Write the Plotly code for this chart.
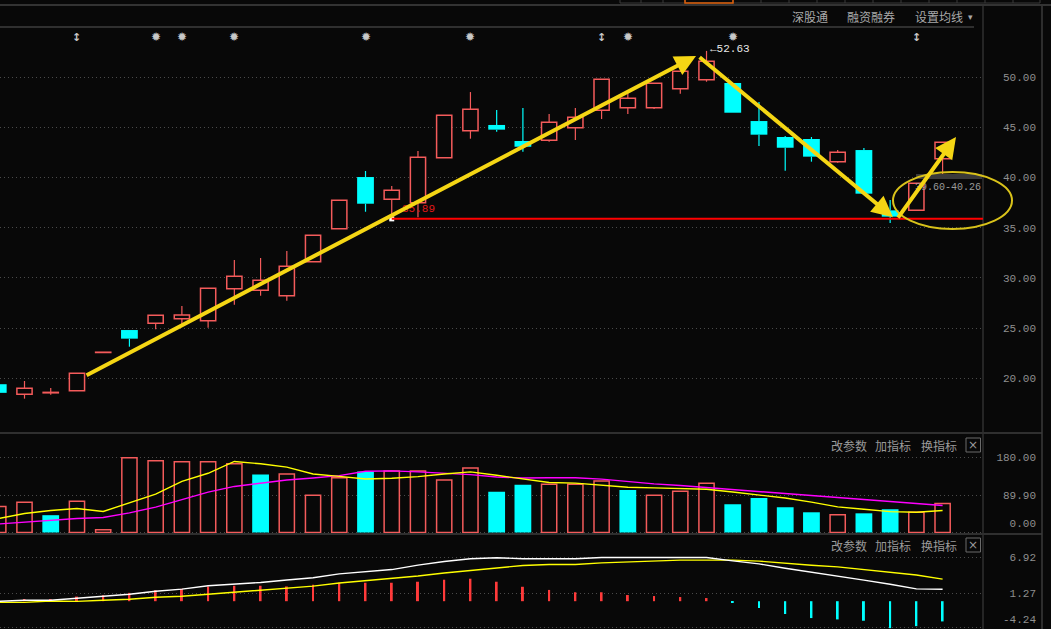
import plotly.graph_objects as go

# ---------------- data ----------------
days = list(range(37))
opens  = [19.41, 18.40, 18.55, 18.76, 22.57, 24.81, 25.48, 25.94, 25.74, 28.93,
          28.77, 28.23, 31.62, 34.91, 40.06, 37.84, 37.50, 41.99, 44.68, 45.25,
          43.65, 43.72, 44.98, 46.71, 46.97, 46.97, 48.86, 49.76, 49.43, 45.64,
          44.05, 43.85, 41.59, 42.75, 36.74, 36.74, 41.89]
highs  = [19.41, 19.73, 19.03, 20.50, 22.60, 24.81, 26.28, 27.20, 28.97, 31.79,
          31.99, 32.69, 34.25, 37.74, 40.66, 39.17, 42.65, 46.21, 48.53, 46.74,
          46.94, 46.34, 46.94, 49.80, 48.57, 49.40, 50.60, 52.63, 49.43, 47.54,
          44.15, 44.05, 42.75, 42.95, 37.77, 39.43, 43.52]
lows   = [18.55, 17.97, 18.37, 18.76, 22.57, 23.15, 24.88, 25.25, 25.04, 27.33,
          28.23, 27.73, 31.62, 34.91, 36.60, 35.89, 36.05, 41.99, 43.88, 44.58,
          42.58, 43.58, 43.75, 45.84, 46.34, 46.84, 48.37, 49.56, 46.47, 43.15,
          40.69, 41.59, 41.49, 38.40, 35.48, 36.74, 40.33]
closes = [18.55, 19.00, 18.60, 20.50, 22.60, 23.95, 26.28, 26.30, 28.97, 30.17,
          29.77, 31.16, 34.25, 37.74, 37.40, 38.74, 42.03, 46.21, 46.81, 44.78,
          43.08, 45.51, 46.01, 49.80, 47.91, 49.40, 50.60, 51.59, 46.47, 44.28,
          42.98, 42.09, 42.52, 38.40, 36.11, 39.43, 43.52]
prev_close_first = 18.40

volumes  = [62.7, 72.5, 41.6, 74.9, 6.7, 179.7, 172.4, 170.0, 170.0, 165.1,
            139.1, 140.7, 89.5, 131.8, 146.4, 148.0, 148.0, 126.1, 155.3, 97.7,
            114.8, 116.1, 116.1, 123.5, 102.3, 89.3, 99.0, 118.6, 68.1, 82.8,
            60.8, 48.6, 42.9, 46.1, 55.9, 48.6, 69.7]
vol_ma5  = [33.5, 45.7, 53.0, 57.8, 50.5, 71.7, 92.0, 122.8, 142.3, 170.8,
            165.1, 157.0, 140.7, 135.0, 128.5, 130.2, 134.2, 140.7, 145.6, 137.5,
            128.5, 120.2, 118.6, 113.7, 108.8, 107.2, 106.4, 103.9, 97.4, 90.9,
            82.8, 73.0, 61.6, 55.9, 50.2, 48.6, 52.7]
vol_ma10 = [20.5, 25.3, 28.6, 33.5, 35.9, 47.3, 61.1, 79.8, 96.9, 110.7,
            118.8, 126.1, 131.0, 136.7, 147.3, 148.0, 145.6, 142.3, 139.1, 133.4,
            131.0, 131.6, 131.6, 128.3, 121.8, 116.9, 112.8, 108.0, 103.1, 99.8,
            95.0, 90.1, 84.4, 79.5, 74.6, 69.7, 64.8]

dif  = [-0.02, 0.14, 0.14, 0.46, 0.78, 1.11, 1.59, 1.91, 2.45, 2.71,
        2.98, 3.36, 3.73, 4.33, 4.70, 5.02, 5.72, 6.31, 6.74, 6.90,
        6.74, 6.73, 6.73, 6.93, 6.93, 6.93, 6.93, 6.93, 6.41, 5.92,
        5.23, 4.64, 4.05, 3.35, 2.70, 1.95, 1.90]
dea  = [-0.18, -0.18, 0.03, -0.02, 0.14, 0.30, 0.62, 0.78, 1.11, 1.43,
        1.75, 2.07, 2.39, 2.88, 3.25, 3.63, 4.00, 4.48, 4.86, 5.18,
        5.67, 5.82, 5.82, 6.09, 6.25, 6.41, 6.52, 6.52, 6.52, 6.36,
        5.98, 5.71, 5.45, 5.02, 4.59, 4.16, 3.51]
macd = [0.32, 0.35, 0.35, 0.73, 0.94, 1.32, 1.75, 1.96, 2.34, 2.45,
        2.45, 2.34, 2.61, 2.93, 2.93, 2.93, 3.09, 3.41, 3.57, 3.09,
        2.29, 1.79, 1.42, 1.42, 0.98, 0.82, 0.66, 0.50, -0.25, -1.06,
        -2.03, -2.68, -2.89, -3.10, -4.28, -3.96, -3.21]

price_ticks = [20, 25, 30, 35, 40, 45, 50]
vol_ticks = [180.0, 89.9, 0.0]
macd_ticks = [6.92, 1.27, -4.24]
star_days = [6, 7, 9, 14, 18, 24, 28]
flag_days = [3, 23, 35]
low_day = 15          # support-line start
peak_day = 27
range_label = "39.60-40.26"

for arr in (opens, highs, lows, closes, volumes, vol_ma5, vol_ma10, dif, dea, macd):
    assert len(arr) == len(days)

# ---------------- style ----------------
W, H = 1051, 629
PR = 15                       # right margin
PW = W - PR                   # plot width in px
BG = "#080808"
RED = "#f45b5b"
CYAN = "#00ffff"
GRID = "#4a4a4a"
LBL = "#8f8f8f"
YEL = "#f5d614"
MONO = "Liberation Mono"
CJK = "Noto Sans CJK SC"

def px(x):
    return x / PW

def py(y):
    return 1 - y / H

XR = [0.066, 37.54]

fig = go.Figure()

# ---------- candles ----------
up = [i for i in days if closes[i] >= opens[i]]
dn = [i for i in days if closes[i] < opens[i]]

def wicks(sel):
    xs, ys = [], []
    for i in sel:
        top, bot = max(opens[i], closes[i]), min(opens[i], closes[i])
        if highs[i] > top:
            xs += [i, i, None]; ys += [highs[i], top, None]
        if lows[i] < bot:
            xs += [i, i, None]; ys += [bot, lows[i], None]
    return xs, ys

for sel, col in ((up, RED), (dn, CYAN)):
    wx, wy = wicks(sel)
    fig.add_trace(go.Scatter(x=wx, y=wy, mode="lines", line=dict(color=col, width=1.2),
                             hoverinfo="skip", xaxis="x", yaxis="y"))

fig.add_trace(go.Bar(x=up, y=[closes[i] - opens[i] for i in up], base=[opens[i] for i in up],
                     width=0.58, marker=dict(color=BG, line=dict(color=RED, width=1.5)),
                     xaxis="x", yaxis="y"))
fig.add_trace(go.Bar(x=dn, y=[opens[i] - closes[i] for i in dn], base=[closes[i] for i in dn],
                     width=0.64, marker=dict(color=CYAN, line=dict(width=0)),
                     xaxis="x", yaxis="y"))

# lowest point marker
fig.add_trace(go.Scatter(x=[low_day], y=[lows[low_day]], mode="markers",
                         marker=dict(symbol="square", size=5, color="#ffffff"),
                         xaxis="x", yaxis="y"))

# ---------- volume ----------
prevs = [prev_close_first] + closes[:-1]
vup = [i for i in days if closes[i] >= prevs[i]]
vdn = [i for i in days if closes[i] < prevs[i]]
fig.add_trace(go.Bar(x=vup, y=[volumes[i] for i in vup], width=0.58,
                     marker=dict(color=BG, line=dict(color=RED, width=1.5)),
                     xaxis="x2", yaxis="y2"))
fig.add_trace(go.Bar(x=vdn, y=[volumes[i] for i in vdn], width=0.64,
                     marker=dict(color=CYAN, line=dict(width=0)),
                     xaxis="x2", yaxis="y2"))
fig.add_trace(go.Scatter(x=days, y=vol_ma10, mode="lines", line=dict(color="#ff00ff", width=1.4),
                         xaxis="x2", yaxis="y2"))
fig.add_trace(go.Scatter(x=days, y=vol_ma5, mode="lines", line=dict(color="#ffff00", width=1.4),
                         xaxis="x2", yaxis="y2"))

# ---------- MACD ----------
hup = [i for i in days if macd[i] >= 0]
hdn = [i for i in days if macd[i] < 0]
fig.add_trace(go.Bar(x=hup, y=[macd[i] for i in hup], width=0.075,
                     marker=dict(color="#ff3a3a", line=dict(width=0)), xaxis="x3", yaxis="y3"))
fig.add_trace(go.Bar(x=hdn, y=[macd[i] for i in hdn], width=0.075,
                     marker=dict(color=CYAN, line=dict(width=0)), xaxis="x3", yaxis="y3"))
fig.add_trace(go.Scatter(x=days, y=dea, mode="lines", line=dict(color="#ffff00", width=1.4),
                         xaxis="x3", yaxis="y3"))
fig.add_trace(go.Scatter(x=days, y=dif, mode="lines", line=dict(color="#ffffff", width=1.4),
                         xaxis="x3", yaxis="y3"))

# ---------- axes ----------
xdom = [0, px(983)]
xcommon = dict(range=XR, domain=xdom, visible=False, showgrid=False, zeroline=False)
tickfont = dict(family=MONO, size=11, color=LBL)
DOT = "1px,3px"

price_dom = [py(432), py(28)]
p_lo = 50 - (432 - 77.3) / 10.033
p_hi = 50 + (77.3 - 28) / 10.033
vol_dom = [py(534), py(433.5)]
v_lo = (532.5 - 534) / 0.4161
v_hi = (532.5 - 433.5) / 0.4161
macd_dom = [0, py(535)]
m_lo = -(629 - 601.2) / 6.3
m_hi = (601.2 - 535) / 6.3

fig.update_layout(
    xaxis=dict(anchor="y", **xcommon),
    xaxis2=dict(anchor="y2", matches="x", **xcommon),
    xaxis3=dict(anchor="y3", matches="x", **xcommon),
    yaxis=dict(domain=price_dom, range=[p_lo, p_hi], anchor="free", position=1, side="left",
               tickmode="array", tickvals=price_ticks, ticktext=[f"{v:.2f}" for v in price_ticks],
               showgrid=True, gridcolor=GRID, griddash=DOT, gridwidth=1, zeroline=False,
               showline=False, ticks="", tickfont=tickfont),
    yaxis2=dict(domain=vol_dom, range=[v_lo, v_hi], anchor="free", position=1, side="left",
                tickmode="array", tickvals=[180.0, 89.9, 22.8],
                ticktext=[f"{v:.2f}" for v in vol_ticks],
                showgrid=False, zeroline=False, showline=False, ticks="", tickfont=tickfont,
                minor=dict(tickmode="array", tickvals=vol_ticks, showgrid=True, gridcolor=GRID,
                           griddash=DOT, gridwidth=1, ticks="")),
    yaxis3=dict(domain=macd_dom, range=[m_lo, m_hi], anchor="free", position=1, side="left",
                tickmode="array", tickvals=[6.92, 1.27, -2.83],
                ticktext=[f"{v:.2f}" for v in macd_ticks],
                showgrid=False, zeroline=False, showline=False, ticks="", tickfont=tickfont,
                minor=dict(tickmode="array", tickvals=macd_ticks, showgrid=True, gridcolor=GRID,
                           griddash=DOT, gridwidth=1, ticks="")),
    barmode="overlay",
    showlegend=False,
    width=W, height=H,
    margin=dict(l=0, r=PR, t=0, b=0, pad=0),
    paper_bgcolor=BG, plot_bgcolor=BG,
    hovermode=False,
)

shapes = []
LINE = "#2f2f2f"
# frame lines
shapes.append(dict(type="line", xref="paper", yref="paper", x0=0, x1=px(W), y0=py(5), y1=py(5),
                   line=dict(color="#333333", width=2)))
shapes.append(dict(type="line", xref="paper", yref="paper", x0=0, x1=px(974), y0=py(27), y1=py(27),
                   line=dict(color=LINE, width=2)))
for yy in (433, 534):
    shapes.append(dict(type="line", xref="paper", yref="paper", x0=0, x1=px(1042), y0=py(yy), y1=py(yy),
                       line=dict(color=LINE, width=2)))
shapes.append(dict(type="line", xref="paper", yref="paper", x0=px(983), x1=px(983), y0=py(6), y1=0,
                   line=dict(color=LINE, width=1.5)))
shapes.append(dict(type="line", xref="paper", yref="paper", x0=px(1042), x1=px(1042), y0=py(6), y1=0,
                   line=dict(color="#3a3a3a", width=1.5)))
# top tabs
shapes.append(dict(type="rect", xref="paper", yref="paper", x0=px(620), x1=px(1040), y0=py(3), y1=py(-2),
                   line=dict(color="#3a3a3a", width=1)))
for xx in (641, 663, 685, 733, 761, 789, 817, 845, 873, 901, 929, 957, 985, 1013):
    shapes.append(dict(type="line", xref="paper", yref="paper", x0=px(xx), x1=px(xx), y0=py(3), y1=1,
                       line=dict(color="#3a3a3a", width=1)))
shapes.append(dict(type="rect", xref="paper", yref="paper", x0=px(685), x1=px(733), y0=py(3), y1=py(-2),
                   line=dict(color="#e0600a", width=1.5)))
# close boxes
for yc in (445, 545):
    shapes.append(dict(type="rect", xref="paper", yref="paper", x0=px(966), x1=px(980.5),
                       y0=py(yc + 7), y1=py(yc - 7), line=dict(color="#6a6a6a", width=1)))
# support line from the low
shapes.append(dict(type="line", xref="x", yref="y", x0=low_day, x1=XR[1],
                   y0=lows[low_day], y1=lows[low_day], line=dict(color="#ff0000", width=2)))
# range label box top
shapes.append(dict(type="rect", xref="paper", yref="paper", x0=px(916), x1=px(982), y0=py(179), y1=py(174),
                   fillcolor="#3a3a3a", line=dict(width=0)))
# ellipse
shapes.append(dict(type="circle", xref="paper", yref="paper", x0=px(893), x1=px(1012),
                   y0=py(229), y1=py(172), line=dict(color="#d9c21a", width=2)))
fig.update_layout(shapes=shapes)

ann = []
# header texts
for txt, xc in (("深股通", 810), ("融资融券", 871), ("设置均线", 939)):
    ann.append(dict(text=txt, x=px(xc), y=py(17), xref="paper", yref="paper", showarrow=False,
                    font=dict(family=CJK, size=12, color="#a8a8a8"), xanchor="center", yanchor="middle"))
ann.append(dict(text="▾", x=px(970), y=py(17), xref="paper", yref="paper", showarrow=False,
                font=dict(size=9, color="#a8a8a8"), xanchor="center", yanchor="middle"))
for yc in (445, 545):
    for txt, xc in (("改参数", 848.5), ("加指标", 893), ("换指标", 938.5)):
        ann.append(dict(text=txt, x=px(xc), y=py(yc), xref="paper", yref="paper", showarrow=False,
                        font=dict(family=CJK, size=12, color="#9a9a9a"), xanchor="center", yanchor="middle"))
    ann.append(dict(text="×", x=px(973.3), y=py(yc), xref="paper", yref="paper", showarrow=False,
                    font=dict(family="DejaVu Sans", size=12, color="#9a9a9a"), xanchor="center", yanchor="middle"))
# event markers
for d in star_days:
    ann.append(dict(text="✹", x=d, y=py(37), xref="x", yref="paper", showarrow=False,
                    font=dict(family="DejaVu Sans", size=12, color="#c8c8c8"), xanchor="center", yanchor="middle"))
for d in flag_days:
    ann.append(dict(text="<b>↕</b>", x=d, y=py(37), xref="x", yref="paper", showarrow=False,
                    font=dict(family="DejaVu Sans", size=11, color="#c8c8c8"), xanchor="center", yanchor="middle"))
# price labels
ann.append(dict(text=f"←{highs[peak_day]:.2f}", x=peak_day, y=highs[peak_day], xref="x", yref="y",
                showarrow=False, xanchor="left", yanchor="middle", xshift=1, yshift=2,
                font=dict(family=MONO, size=11, color="#e8e8e8")))
ann.append(dict(text=f"{lows[low_day]:.2f}", x=low_day, y=lows[low_day], xref="x", yref="y",
                showarrow=False, xanchor="left", yanchor="bottom", xshift=8, yshift=2,
                font=dict(family=MONO, size=11, color="#e01818")))
ann.append(dict(text=range_label, x=px(948), y=py(188), xref="paper", yref="paper",
                showarrow=False, xanchor="center", yanchor="middle",
                font=dict(family=MONO, size=10, color="#9a9a9a")))
# trend arrows (tail -> tip in data coordinates)
arrows = [((3.31, 20.23), (26.60, 52.12)),
          ((26.68, 52.12), (34.11, 36.06)),
          ((34.26, 35.86), (36.51, 44.04))]
for (ax_, ay_), (x_, y_) in arrows:
    ann.append(dict(x=x_, y=y_, ax=ax_, ay=ay_, xref="x", yref="y", axref="x", ayref="y",
                    text="", showarrow=True, arrowhead=2, arrowsize=1.05, arrowwidth=4,
                    arrowcolor=YEL, standoff=0))
fig.update_layout(annotations=ann)

fig.write_html("out.html")
